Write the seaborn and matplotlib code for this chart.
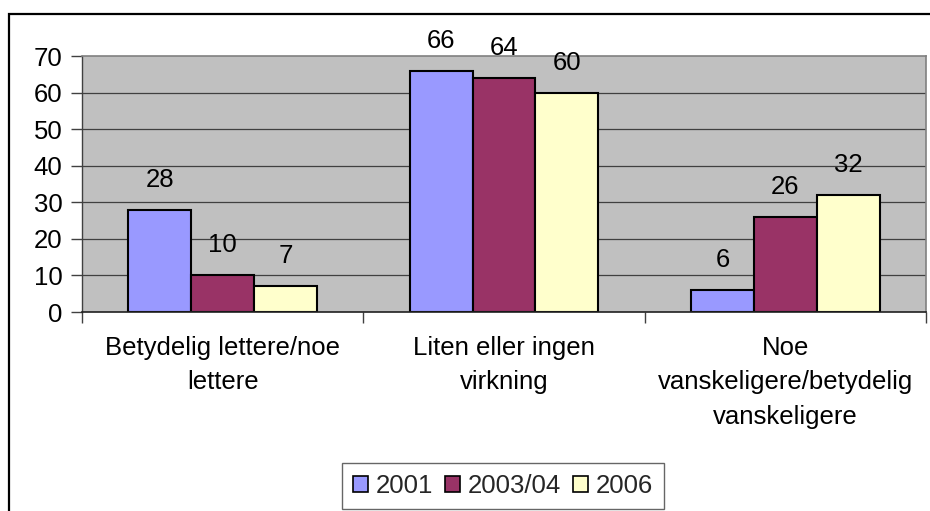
import matplotlib
matplotlib.use("Agg")
import matplotlib.pyplot as plt
import seaborn as sns
import pandas as pd
from matplotlib.patches import Rectangle

categories = ["Betydelig lettere/noe\nlettere", "Liten eller ingen\nvirkning",
              "Noe\nvanskeligere/betydelig\nvanskeligere"]
series = ["2001", "2003/04", "2006"]
v2001 = [28, 66, 6]
v2003 = [10, 64, 26]
v2006 = [7, 60, 32]
colors = ["#9999FF", "#993366", "#FFFFCC"]
yticks = [0, 10, 20, 30, 40, 50, 60, 70]

rows = []
for s, vals in zip(series, [v2001, v2003, v2006]):
    for c, v in zip(categories, vals):
        rows.append({"cat": c, "year": s, "val": v})
df = pd.DataFrame(rows)

sns.set_theme(style="white")
plt.rcParams["font.family"] = ["Liberation Sans", "DejaVu Sans"]

FS = 18.5
fig = plt.figure(figsize=(9.3, 5.11), dpi=100)
ax = fig.add_axes([82/930, 1-312/511, (926-82)/930, (312-56)/511])
ax.set_facecolor("#C0C0C0")

sns.barplot(data=df, x="cat", y="val", hue="year", palette=colors, width=0.67,
            edgecolor="black", linewidth=1.5, ax=ax, saturation=1, legend=True,
            order=categories, hue_order=series)

ax.set_ylim(0, 70)
ax.set_xlim(-0.5, 2.5)
ax.set_yticks(yticks)
ax.set_yticklabels([str(t) for t in yticks], fontsize=FS, color="black")
for t in yticks[1:-1]:
    ax.axhline(t, color="#404040", lw=0.9, zorder=0.5)
ax.set_axisbelow(True)

ax.set_xlabel("")
ax.set_ylabel("")
ax.tick_params(axis="x", length=0, pad=17, labelsize=FS, labelcolor="black")
ax.set_xticks([-0.5, 0.5, 1.5, 2.5], minor=True)
ax.tick_params(axis="x", which="minor", length=8, width=1, color="#404040", direction="out", bottom=True)
ax.tick_params(axis="y", length=8, width=1, color="#404040", direction="out", left=True, pad=6)
for lab in ax.get_xticklabels():
    lab.set_linespacing(1.55)

for sp in ["top", "right"]:
    ax.spines[sp].set_color("#808080")
    ax.spines[sp].set_linewidth(1.2)
ax.spines["left"].set_color("#404040")
ax.spines["bottom"].set_color("#202020")
ax.spines["left"].set_linewidth(1)
ax.spines["bottom"].set_linewidth(1.2)

for cont in ax.containers:
    ax.bar_label(cont, labels=[f"{int(v)}" for v in cont.datavalues], padding=13,
                 fontsize=FS, color="black")

handles, labels = ax.get_legend_handles_labels()
ax.legend_.remove()
leg = fig.legend(handles, labels, loc="upper center", bbox_to_anchor=(503/930, 1-463/511),
                 ncol=3, fontsize=FS, frameon=True, fancybox=False, handlelength=0.6,
                 handleheight=0.6, handletextpad=0.3, columnspacing=0.45,
                 borderpad=0.42, borderaxespad=0)
leg.get_frame().set_edgecolor("#404040")
leg.get_frame().set_linewidth(1)
for h in leg.legend_handles:
    h.set_edgecolor("black")
    h.set_linewidth(1.2)

fig.patches.append(Rectangle((9/930, -0.2), 1.5, 0.2 + 1 - 14/511, transform=fig.transFigure,
                             fill=False, edgecolor="black", lw=1.6))

fig.savefig("out.png", dpi=100)
